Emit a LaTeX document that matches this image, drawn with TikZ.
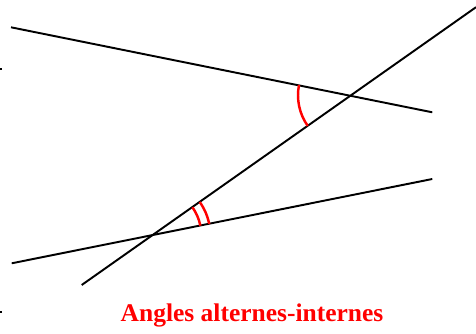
\documentclass[tikz,border=0pt]{standalone}
\usepackage{fontspec}
\setmainfont{Liberation Serif}
\usepackage{tikz}
\usepackage{xcolor}

\begin{document}
\begin{tikzpicture}[x=1cm,y=1cm,
  droite/.style={black,line width=1.1pt},
  arcangle/.style={red,line width=1.4pt}]
\useasboundingbox (0,0) rectangle (9.52,6.66);
\coordinate (A1) at (0.22,6.114);
\coordinate (A2) at (8.646,4.414);
\coordinate (B1) at (0.234,1.394);
\coordinate (B2) at (8.646,3.08);
\coordinate (T1) at (1.634,0.96);
\coordinate (T2) at (9.52,6.516);
\coordinate (I) at (7.02,4.754);
\coordinate (J) at (3.056,1.956);
\draw[droite] (A1) -- (A2);
\draw[droite] (B1) -- (B2);
\draw[droite] (T1) -- (T2);
\fill[black] (0,5.26) rectangle (0.04,5.3);
\fill[black] (0,0.41) rectangle (0.04,0.45);
\draw[arcangle] (I) ++(168.7:1.06cm) arc[start angle=168.7,end angle=215.2,radius=1.06cm];
\draw[arcangle] (J) ++(11.3:0.97cm) arc[start angle=11.3,end angle=35.2,radius=0.97cm];
\draw[arcangle] (J) ++(11.3:1.15cm) arc[start angle=11.3,end angle=35.2,radius=1.15cm];
\node[anchor=base,text=red,font=\bfseries\fontsize{14.5}{17}\selectfont,inner sep=0pt] (titre) at (5.04,0.226) {Angles alternes-internes};
\end{tikzpicture}
\end{document}
